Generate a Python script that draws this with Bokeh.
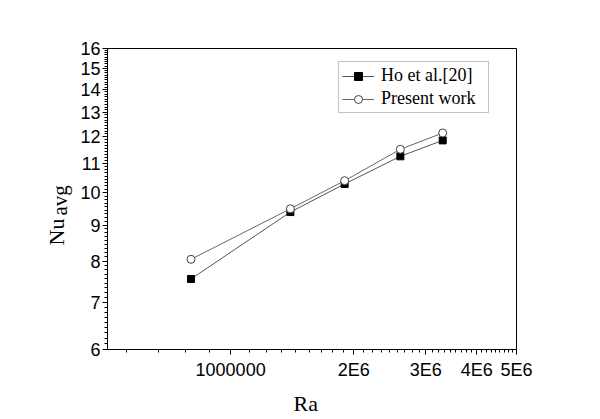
import math
from bokeh.plotting import figure
from bokeh.models import FixedTicker, Legend, LegendItem, Label
from bokeh.embed import file_html
from bokeh.resources import INLINE

# ---- data ----
ra_ho = [8.0e5, 1.4e6, 1.9e6, 2.6e6, 3.3e6]
nu_ho = [7.55, 9.39, 10.29, 11.26, 11.86]
ra_present = [8.0e5, 1.4e6, 1.9e6, 2.6e6, 3.3e6]
nu_present = [8.05, 9.49, 10.40, 11.52, 12.15]

x_major = [1e6, 2e6, 3e6, 4e6, 5e6]
x_labels = ["1000000", "2E6", "3E6", "4E6", "5E6"]
y_major = [6, 7, 8, 9, 10, 11, 12, 13, 14, 15, 16]
y_labels = [str(v) for v in y_major]

x_minor = [k * 1e6 / 9 for k in range(5, 45) if k % 9 != 0]
y_minor = [n + j / 9 for n in range(6, 16) for j in range(1, 9)]

SANS = "Liberation Sans"
SERIF = "Liberation Serif"

p = figure(width=584, height=415, x_axis_type="log", y_axis_type="log",
           x_range=(5e5, 5e6), y_range=(6, 16),
           output_backend="svg", toolbar_location=None,
           min_border_left=107, min_border_right=68,
           min_border_top=48, min_border_bottom=66)
p.grid.visible = False
p.outline_line_color = "black"
p.outline_line_width = 1
p.background_fill_color = "white"
p.border_fill_color = "white"

p.xaxis.ticker = FixedTicker(ticks=x_major, minor_ticks=x_minor)
p.yaxis.ticker = FixedTicker(ticks=y_major, minor_ticks=y_minor)
p.xaxis.major_label_overrides = {float(v): l for v, l in zip(x_major, x_labels)}
p.yaxis.major_label_overrides = {float(v): l for v, l in zip(y_major, y_labels)}

for ax in (p.xaxis[0], p.yaxis[0]):
    ax.axis_line_color = "black"
    ax.major_tick_line_color = "black"
    ax.minor_tick_line_color = "black"
    ax.major_tick_out = 5
    ax.major_tick_in = 0
    ax.minor_tick_out = 3
    ax.minor_tick_in = 0
    ax.major_label_text_font = SANS
    ax.major_label_text_font_size = "18px"
    ax.major_label_text_color = "black"
p.xaxis.major_label_standoff = 5
p.yaxis.major_label_standoff = 2

l1 = p.line(ra_ho, nu_ho, line_color="#555555", line_width=1)
s1 = p.scatter(ra_ho, nu_ho, marker="square", size=7, fill_color="black", line_color="black")
l2 = p.line(ra_present, nu_present, line_color="#666666", line_width=1)
s2 = p.scatter(ra_present, nu_present, marker="circle", size=8, fill_color="white", line_color="#444444")

legend = Legend(items=[LegendItem(label="Ho et al.[20]", renderers=[l1, s1]),
                       LegendItem(label="Present work", renderers=[l2, s2])],
                location=(231, 236))
legend.label_text_font = SERIF
legend.label_text_font_size = "18px"
legend.label_text_color = "black"
legend.glyph_width = 32
legend.glyph_height = 20
legend.label_height = 20
legend.label_width = 104
legend.label_standoff = 7
legend.padding = 3
legend.spacing = 2
legend.margin = 0
legend.border_line_color = "#888888"
legend.border_line_width = 1
legend.background_fill_color = "white"
legend.background_fill_alpha = 1
p.add_layout(legend)

p.add_layout(Label(x=56, y=245, x_units="canvas", y_units="canvas", text="Nu",
                   angle=math.pi / 2, text_font=SERIF, text_font_size="22px",
                   text_align="left", text_baseline="alphabetic", text_color="black"), "left")
p.add_layout(Label(x=59, y=215, x_units="canvas", y_units="canvas", text="avg",
                   angle=math.pi / 2, text_font=SERIF, text_font_size="21px",
                   text_align="left", text_baseline="alphabetic", text_color="black"), "left")
p.add_layout(Label(x=293, y=403, x_units="canvas", y_units="canvas", text="Ra",
                   text_font=SERIF, text_font_size="22px",
                   text_align="left", text_baseline="alphabetic", text_color="black"), "below")

open("out.html", "w").write(file_html(p, INLINE))
